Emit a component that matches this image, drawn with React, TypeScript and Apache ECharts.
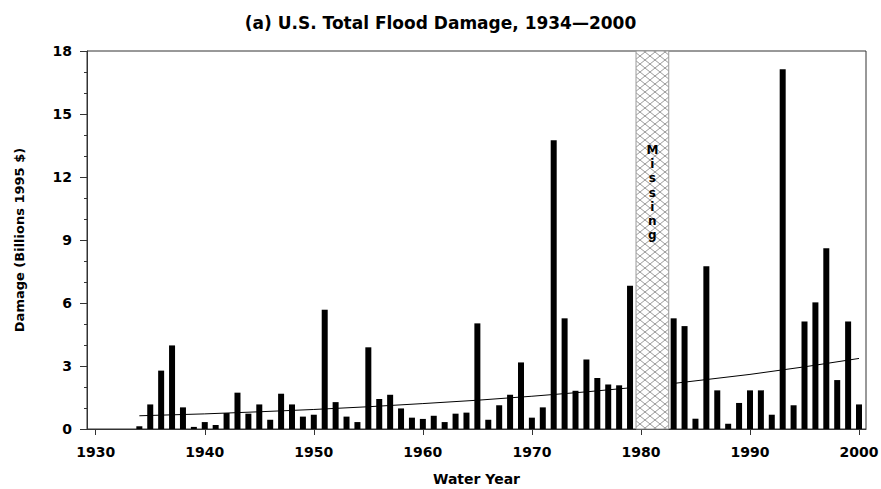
import React, { useEffect, useRef } from "react";
import * as echarts from "echarts";

const TITLE = "(a) U.S. Total Flood Damage, 1934\u20142000";
const X_NAME = "Water Year";
const Y_NAME = "Damage (Billions 1995 $)";

const years = [
  1934, 1935, 1936, 1937, 1938, 1939, 1940, 1941, 1942, 1943, 1944, 1945, 1946, 1947, 1948, 1949,
  1950, 1951, 1952, 1953, 1954, 1955, 1956, 1957, 1958, 1959, 1960, 1961, 1962, 1963, 1964, 1965,
  1966, 1967, 1968, 1969, 1970, 1971, 1972, 1973, 1974, 1975, 1976, 1977, 1978, 1979,
  1983, 1984, 1985, 1986, 1987, 1988, 1989, 1990, 1991, 1992, 1993, 1994, 1995, 1996, 1997, 1998,
  1999, 2000,
];
const damage = [
  0.13, 1.17, 2.78, 3.98, 1.03, 0.1, 0.33, 0.19, 0.76, 1.73, 0.73, 1.17, 0.44, 1.68, 1.17, 0.59,
  0.68, 5.68, 1.28, 0.59, 0.33, 3.89, 1.43, 1.63, 0.98, 0.54, 0.48, 0.63, 0.33, 0.73, 0.78, 5.03,
  0.44, 1.13, 1.63, 3.17, 0.54, 1.03, 13.75, 5.27, 1.82, 3.31, 2.43, 2.12, 2.08, 6.82,
  5.27, 4.9, 0.49, 7.75, 1.84, 0.25, 1.24, 1.84, 1.84, 0.68, 17.13, 1.13, 5.12, 6.03, 8.61, 2.33,
  5.12, 1.17,
];

// Trend line; "-" marks the gap over the missing years
const trendYears = [1934, 1940, 1945, 1950, 1955, 1960, 1965, 1970, 1975, 1979, 1981, 1983, 1990, 1995, 2000];
const trendValues: (number | string)[] = [0.63, 0.72, 0.82, 0.93, 1.06, 1.21, 1.37, 1.56, 1.77, 1.96, "-", 2.17, 2.6, 2.96, 3.36];

const missingRange = [1979.55, 1982.55];
const missingLabel = "Missing";

const xTickValues = [1930, 1940, 1950, 1960, 1970, 1980, 1990, 2000];

const FONT = "DejaVu Sans";

function makeHatch(): HTMLCanvasElement {
  const c = document.createElement("canvas");
  c.width = 10;
  c.height = 8;
  const ctx = c.getContext("2d")!;
  ctx.fillStyle = "#ffffff";
  ctx.fillRect(0, 0, 10, 8);
  ctx.strokeStyle = "#9a9a9a";
  ctx.lineWidth = 1;
  ctx.beginPath();
  ctx.moveTo(0, 0);
  ctx.lineTo(10, 8);
  ctx.moveTo(10, 0);
  ctx.lineTo(0, 8);
  ctx.stroke();
  return c;
}

export default function App() {
  const ref = useRef<HTMLDivElement>(null);

  useEffect(() => {
    document.body.style.margin = "0";
    if (!ref.current) return;
    const chart = echarts.init(ref.current, undefined, { renderer: "svg" });
    const hatch = makeHatch();

    const barData = years.map((y, i) => [y, damage[i]]);
    const trendData = trendYears.map((y, i) => [y, trendValues[i]]);

    chart.setOption({
      animation: false,
      backgroundColor: "#ffffff",
      title: {
        text: TITLE,
        left: "center",
        top: 9,
        textStyle: { fontFamily: FONT, fontWeight: "bold", fontSize: 17, color: "#000" },
      },
      grid: {
        left: 87,
        top: 51,
        right: 15,
        bottom: 60,
        show: true,
        borderColor: "#333",
        borderWidth: 1,
        containLabel: false,
        outerBoundsMode: "none",
      },
      xAxis: {
        type: "value",
        min: 1929.2,
        max: 2000.64,
        name: X_NAME,
        nameLocation: "middle",
        nameGap: 43,
        nameTextStyle: { fontFamily: FONT, fontWeight: "bold", fontSize: 14, color: "#000" },
        splitLine: { show: false },
        axisLine: { show: true, lineStyle: { color: "#333", width: 1 } },
        axisTick: { show: true, length: 6, customValues: xTickValues, lineStyle: { color: "#333" } },
        axisLabel: {
          customValues: xTickValues,
          margin: 16,
          fontFamily: FONT,
          fontWeight: "bold",
          fontSize: 14,
          color: "#000",
          formatter: (v: number) => String(v),
        },
      },
      yAxis: {
        type: "value",
        min: 0,
        max: 18,
        interval: 3,
        name: Y_NAME,
        nameLocation: "middle",
        nameRotate: 90,
        nameGap: 61,
        nameTextStyle: { fontFamily: FONT, fontWeight: "bold", fontSize: 13, color: "#000" },
        splitLine: { show: false },
        axisLine: { show: true, lineStyle: { color: "#333", width: 1 } },
        axisTick: { show: true, length: 7, lineStyle: { color: "#333" } },
        minorTick: { show: true, splitNumber: 3, length: 3, lineStyle: { color: "#333" } },
        axisLabel: {
          margin: 15,
          fontFamily: FONT,
          fontWeight: "bold",
          fontSize: 14,
          color: "#000",
        },
      },
      series: [
        {
          type: "bar",
          data: barData,
          barWidth: 6,
          itemStyle: { color: "#000" },
          markArea: {
            silent: true,
            itemStyle: {
              color: { image: hatch, repeat: "repeat", imageWidth: 10, imageHeight: 8 },
              opacity: 1,
              borderColor: "#9a9a9a",
              borderWidth: 1,
            },
            label: {
              show: true,
              position: "insideTop",
              distance: 92,
              formatter: missingLabel.split("").join("\n"),
              fontFamily: FONT,
              fontWeight: "bold",
              fontSize: 12,
              lineHeight: 14.3,
              color: "#000",
              align: "center",
            },
            data: [[{ xAxis: missingRange[0] }, { xAxis: missingRange[1] }]],
          },
        },
        {
          type: "line",
          data: trendData,
          symbol: "none",
          connectNulls: false,
          lineStyle: { color: "#000", width: 1 },
          z: 3,
        },
      ],
    });

    return () => chart.dispose();
  }, []);

  return (
    <div
      ref={ref}
      style={{ position: "absolute", left: 0, top: 0, width: 881, height: 489 }}
    />
  );
}
